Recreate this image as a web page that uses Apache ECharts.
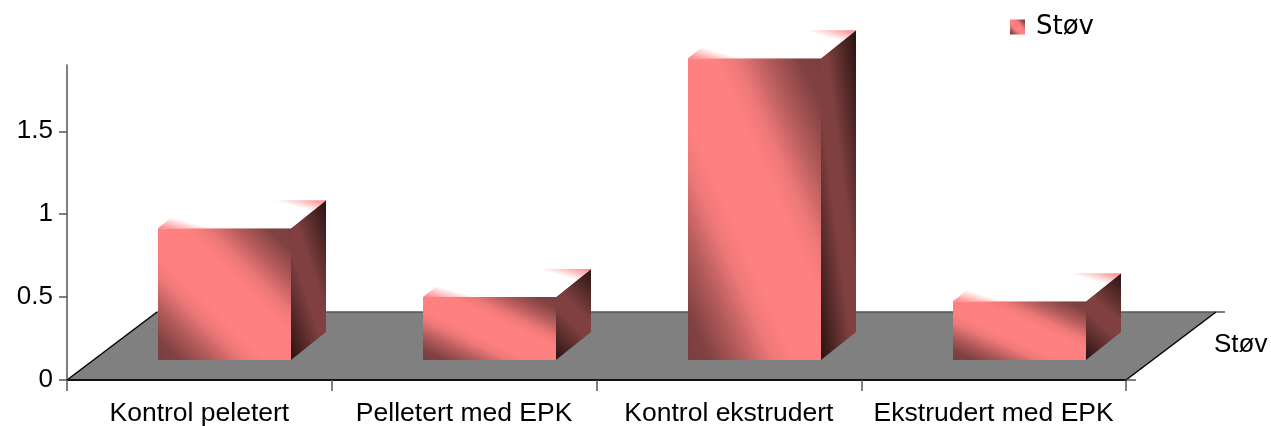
<!DOCTYPE html>
<html>
<head>
<meta charset="utf-8">
<style>
  html, body { margin: 0; padding: 0; background: #fff; }
  #chart { width: 1271px; height: 426px; }
</style>
<script src="https://cdn.jsdelivr.net/npm/echarts@6/dist/echarts.min.js"></script>
</head>
<body>
<div id="chart"></div>
<script>
  // data
  var categories = ['Kontrol peletert', 'Pelletert med EPK', 'Kontrol ekstrudert', 'Ekstrudert med EPK']
  var seriesName = 'Støv'
  var stovValues = [0.795, 0.38, 1.82, 0.355]
  var yTicks = [0, 0.5, 1, 1.5]

  // 3D look, offsets in pixels
  var floorDepth = [90, -68]
  var barShift = [26, -20]
  var barDepth = [35, -28]
  var barWidth = 133
  var FONT = '"Liberation Sans", Arial, sans-serif'

  // gradient from the bottom-left to the top-right corner of a face, with
  // the colour bands running along its other diagonal
  function faceGradient (bl, tl, tr, br, stops) {
    var dx = br[0] - tl[0]
    var dy = br[1] - tl[1]
    var nx = dy
    var ny = -dx
    var k = ((tr[0] - bl[0]) * nx + (tr[1] - bl[1]) * ny) / (nx * nx + ny * ny)
    return new echarts.graphic.LinearGradient(bl[0], bl[1], bl[0] + nx * k, bl[1] + ny * k, stops, true)
  }

  var frontStops = [
    { offset: 0, color: '#7a3e3e' },
    { offset: 0.08, color: '#804141' },
    { offset: 0.2, color: '#b25a5a' },
    { offset: 0.32, color: '#ee7878' },
    { offset: 0.4, color: '#ff8080' },
    { offset: 0.6, color: '#ff8080' },
    { offset: 0.68, color: '#ee7878' },
    { offset: 0.8, color: '#b25a5a' },
    { offset: 0.92, color: '#804141' },
    { offset: 1, color: '#7a3e3e' }
  ]
  var sideStops = [
    { offset: 0, color: '#2a1212' },
    { offset: 0.42, color: '#804040' },
    { offset: 0.58, color: '#804040' },
    { offset: 1, color: '#2a1212' }
  ]
  var topStops = [
    { offset: 0, color: '#ff8080' },
    { offset: 0.2, color: '#ffffff' },
    { offset: 0.8, color: '#ffffff' },
    { offset: 1, color: '#ff8080' }
  ]

  function face (corners, stops) {
    return {
      type: 'polygon',
      shape: { points: corners },
      style: { fill: faceGradient(corners[0], corners[1], corners[2], corners[3], stops) }
    }
  }

  function renderBar (params, api) {
    var base = api.coord([api.value(0), 0])
    var head = api.coord([api.value(0), api.value(1)])
    var left = Math.floor(base[0] + barShift[0] - barWidth / 2)
    var right = left + barWidth
    var bottom = base[1] + barShift[1]
    var top = head[1] + barShift[1]
    var dx = barDepth[0]
    var dy = barDepth[1]
    return {
      type: 'group',
      children: [
        face([[left, bottom], [left, top], [right, top], [right, bottom]], frontStops),
        face([[right, bottom], [right, top], [right + dx, top + dy], [right + dx, bottom + dy]], sideStops),
        face([[left, top], [left + dx, top + dy], [right + dx, top + dy], [right, top]], topStops)
      ]
    }
  }

  function edge (a, b, color, width) {
    return {
      type: 'line',
      shape: { x1: a[0], y1: a[1], x2: b[0], y2: b[1] },
      style: { stroke: color, lineWidth: width }
    }
  }

  function renderFloor (params, api) {
    var a = api.coord([0, 0])
    var size = api.size([1, 0])
    var x0 = a[0] - size[0] / 2
    var x1 = x0 + size[0] * categories.length
    var y = a[1]
    var dx = floorDepth[0]
    var dy = floorDepth[1]
    return {
      type: 'group',
      children: [
        {
          type: 'polygon',
          shape: { points: [[x0, y], [x1, y], [x1 + dx, y + dy], [x0 + dx, y + dy]] },
          style: { fill: '#808080' }
        },
        edge([x0 + dx, y + dy], [x1 + dx + 9, y + dy], '#555555', 1.5),
        edge([x0, y], [x0 + dx, y + dy], '#000000', 1.5),
        edge([x1, y], [x1 + dx, y + dy], '#000000', 1.5),
        edge([x1, y], [x1 + 10, y], '#555555', 1.5)
      ]
    }
  }

  var chart = echarts.init(document.getElementById('chart'))
  chart.setOption({
    animation: false,
    backgroundColor: '#fff',
    textStyle: { fontFamily: FONT },
    grid: { left: 67, right: 145, top: 65, bottom: 46, outerBoundsMode: 'none' },
    legend: {
      left: 1005,
      top: 9,
      itemWidth: 15,
      itemHeight: 15,
      selectedMode: false,
      data: [{
        name: seriesName,
        icon: 'rect',
        itemStyle: {
          color: {
            type: 'linear',
            x: 0,
            y: 1,
            x2: 1,
            y2: 0,
            colorStops: frontStops
          }
        }
      }],
      textStyle: { fontFamily: '"DejaVu Sans"', fontSize: 26, color: '#000', padding: [0, 0, 0, 6] }
    },
    xAxis: {
      type: 'category',
      data: categories,
      z: 5,
      axisLine: { lineStyle: { color: '#111', width: 2 } },
      axisTick: { show: true, length: 11, lineStyle: { color: '#555', width: 1.5 } },
      axisLabel: { interval: 0, margin: 20, fontSize: 26.5, color: '#000', fontFamily: FONT },
      splitLine: { show: false }
    },
    yAxis: {
      type: 'value',
      min: 0,
      max: 1.9,
      interval: 0.5,
      z: 5,
      axisLine: { show: true, lineStyle: { color: '#555', width: 1.5 } },
      axisTick: { show: true, length: 8, customValues: yTicks, lineStyle: { color: '#555', width: 1.5 } },
      axisLabel: { margin: 14, fontSize: 26, color: '#000', fontFamily: FONT, customValues: yTicks, padding: [4, 0, 0, 0] },
      splitLine: { show: false }
    },
    graphic: [{
      type: 'text',
      left: 1214,
      top: 332,
      style: { text: seriesName, fontFamily: FONT, fontSize: 26, fill: '#000' }
    }],
    series: [
      {
        type: 'custom',
        name: 'floor',
        silent: true,
        z: 1,
        renderItem: renderFloor,
        data: [[0, 0]],
        encode: { x: 0, y: 1 }
      },
      {
        type: 'custom',
        name: seriesName,
        z: 6,
        renderItem: renderBar,
        data: stovValues.map(function (v, i) { return [i, v] }),
        encode: { x: 0, y: 1 }
      }
    ]
  })
</script>
</body>
</html>
